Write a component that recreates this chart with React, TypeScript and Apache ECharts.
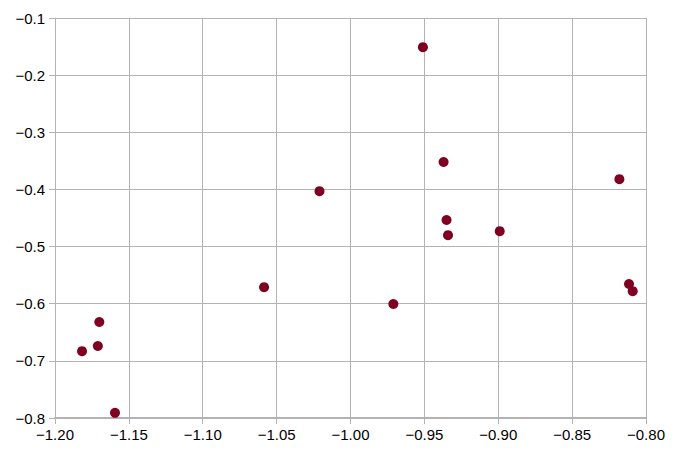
import React, { useEffect, useRef } from "react";
import * as echarts from "echarts";

const xValues = [-0.951, -0.937, -0.818, -1.021, -0.935, -0.934, -0.899, -1.0585, -0.971, -0.8115, -0.809, -1.170, -1.171, -1.1817, -1.1594];
const yValues = [-0.151, -0.352, -0.382, -0.403, -0.4535, -0.480, -0.473, -0.571, -0.6005, -0.5655, -0.578, -0.632, -0.674, -0.683, -0.791];

const fmt = (v: number, d: number) => v.toFixed(d).replace("-", "\u2212");

export default function App() {
  const ref = useRef<HTMLDivElement>(null);
  useEffect(() => {
    if (!ref.current) return;
    const chart = echarts.init(ref.current, undefined, { renderer: "svg" });
    chart.setOption({
      animation: false,
      grid: { left: 55, right: 34, top: 18, bottom: 38 },
      xAxis: {
        type: "value",
        min: -1.2,
        max: -0.8,
        interval: 0.05,
        axisLine: { show: true, onZero: false, lineStyle: { color: "#b3b3b3", width: 2 } },
        axisTick: { show: true, length: 6, lineStyle: { color: "#b3b3b3" } },
        axisLabel: { color: "#000", fontSize: 15, fontFamily: "Liberation Sans", margin: 9, formatter: (v: number) => fmt(v, 2) },
        splitLine: { show: true, lineStyle: { color: "#b3b3b3", width: 1 } },
      },
      yAxis: {
        type: "value",
        min: -0.8,
        max: -0.1,
        interval: 0.1,
        axisLine: { show: true, onZero: false, lineStyle: { color: "#b3b3b3", width: 1 } },
        axisTick: { show: true, length: 6, lineStyle: { color: "#b3b3b3" } },
        axisLabel: { color: "#000", fontSize: 15, fontFamily: "Liberation Sans", margin: 10, formatter: (v: number) => fmt(v, 1) },
        splitLine: { show: true, lineStyle: { color: "#b3b3b3", width: 1 } },
      },
      series: [
        {
          type: "scatter",
          data: xValues.map((x, i) => [x, yValues[i]]),
          symbolSize: 10,
          itemStyle: { color: "#7f0020", opacity: 1 },
        },
      ],
    });
    return () => chart.dispose();
  }, []);
  return <div ref={ref} style={{ width: 680, height: 456, position: "absolute", left: 0, top: 0, background: "#fff" }} />;
}
